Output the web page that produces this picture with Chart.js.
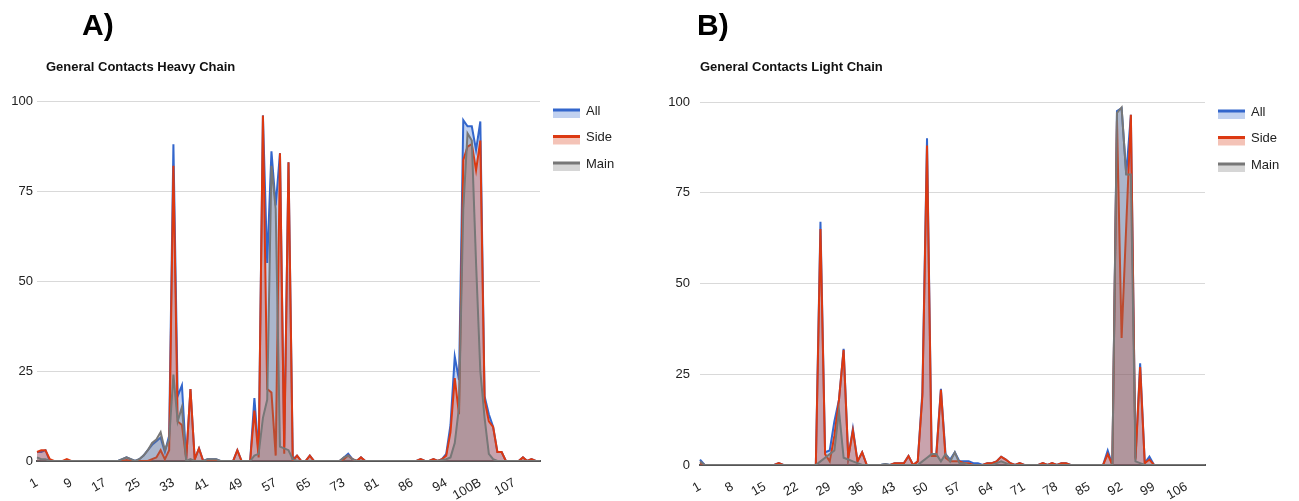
<!DOCTYPE html>
<html>
<head>
<meta charset="utf-8">
<script src="https://cdn.jsdelivr.net/npm/chart.js@4/dist/chart.umd.min.js"></script>
<style>
  html,body{margin:0;padding:0;background:#fff;}
  body{width:1299px;height:501px;position:relative;overflow:hidden;font-family:'Liberation Sans',Arial,sans-serif;}
  canvas{position:absolute;top:0;}
  .panel{position:absolute;font-weight:bold;font-size:30px;line-height:30px;color:#000;}
  .title{position:absolute;font-weight:bold;font-size:13px;line-height:13px;color:#111;}
</style>
</head>
<body>
<canvas id="heavyChart" width="650" height="501" style="left:0;width:650px;height:501px"></canvas>
<canvas id="lightChart" width="649" height="501" style="left:650px;width:649px;height:501px"></canvas>
<div class="panel" style="left:82px;top:10px">A)</div>
<div class="panel" style="left:697px;top:10px">B)</div>
<div class="title" style="left:46px;top:60px">General Contacts Heavy Chain</div>
<div class="title" style="left:700px;top:60px">General Contacts Light Chain</div>
<script>
/* ═══════════════════════════════════════
   General contacts – heavy / light chain
═══════════════════════════════════════ */

/* ── Heavy chain residues (Kabat) ── */
const HEAVY_RES = [
  '1','2','3','4','5','6','7','8','9','10','11','12','13','14','15','16','17','18','19','20',
  '21','22','23','24','25','26','27','28','29','30','31','32','33','34','35','36','37','38','39','40',
  '41','42','43','44','45','46','47','48','49','50','51','52','53','54','55','56','57','58','59','60',
  '61','62','63','64','65','66','67','68','69','70','71','72','73','74','75','76','77','78','79','80',
  '81','82','82A','82B','82C','83','84','85','86','87','88','89','90','91','92','93','94','95','96','97',
  '98','99','100','100A','100B','100C','101','102','103','104','105','106','107','108','109','110','111','112','113'
];
const HEAVY_TICKS = ['1','9','17','25','33','41','49','57','65','73','81','86','94','100B','107'];

const HEAVY_ALL = [
  2.5, 2.5, 3, 0, 0, 0, 0, 0, 0, 0,
  0, 0, 0, 0, 0, 0, 0, 0, 0, 0,
  0.5, 1, 0.5, 0, 0.5, 1.5, 3, 4.5, 5.5, 6.5,
  2.5, 7, 88, 18, 21, 0.5, 20, 0.5, 3.5, 0,
  0.5, 0.5, 0.5, 0, 0, 0, 0, 3, 0, 0,
  0, 17.5, 2, 96, 55, 86, 71, 85.5, 4, 83,
  0.5, 1.5, 0, 0, 1.5, 0, 0, 0, 0, 0,
  0, 0, 1, 2, 0.5, 0, 1, 0, 0, 0,
  0, 0, 0, 0, 0, 0, 0, 0, 0, 0,
  0.5, 0, 0, 0.5, 0, 0.5, 2, 10, 29, 22.5,
  94.7, 93, 93, 86.4, 94.3, 18, 13, 9.5, 2.5, 2.5,
  0, 0, 0, 0, 1, 0, 0.5, 0, 0
];
const HEAVY_SIDE = [
  2.5, 3, 3, 0.5, 0, 0, 0, 0.5, 0, 0,
  0, 0, 0, 0, 0, 0, 0, 0, 0, 0,
  0, 0.3, 0, 0, 0, 0, 0, 0.5, 1, 3,
  0.5, 3, 82, 11, 10, 0.5, 20, 0.5, 3.5, 0,
  0, 0, 0, 0, 0, 0, 0, 3, 0, 0,
  0, 14, 1, 96, 20, 19, 1.5, 85.5, 2, 83,
  0, 1.5, 0, 0, 1.5, 0, 0, 0, 0, 0,
  0, 0, 0.5, 1.5, 0.5, 0, 1, 0, 0, 0,
  0, 0, 0, 0, 0, 0, 0, 0, 0, 0,
  0.5, 0, 0, 0.5, 0, 0.5, 1.5, 8, 23, 13,
  83.6, 87.3, 88, 80.8, 89, 17, 11, 9.5, 2.5, 2.5,
  0, 0, 0, 0, 1, 0, 0.5, 0, 0
];
const HEAVY_MAIN = [
  1, 0.5, 0.5, 0, 0, 0, 0, 0, 0, 0,
  0, 0, 0, 0, 0, 0, 0, 0, 0, 0,
  0.5, 1, 0.5, 0, 0.5, 1.5, 3, 5, 6, 8,
  3, 6, 24, 11, 15, 0, 0.5, 0, 0, 0,
  0.5, 0.5, 0.5, 0, 0, 0, 0, 0, 0, 0,
  0, 1.5, 2, 12, 17, 82, 70, 4, 3.5, 3,
  0.5, 0, 0, 0, 0, 0, 0, 0, 0, 0,
  0, 0, 1, 1.5, 0.5, 0, 0, 0, 0, 0,
  0, 0, 0, 0, 0, 0, 0, 0, 0, 0,
  0, 0, 0, 0, 0, 0.3, 0.5, 1, 5, 15,
  70, 91, 89, 55, 25, 12, 2, 0.5, 0, 0,
  0, 0, 0, 0, 0, 0, 0, 0, 0
];

/* ── Light chain residues ── */
const LIGHT_RES = [
  '1','2','3','4','5','6','7','8','9','10','11','12','13','14','15','16','17','18','19','20',
  '21','22','23','24','25','26','27','28','29','30','31','32','33','34','35','36','37','38','39','40',
  '41','42','43','44','45','46','47','48','49','50','51','52','53','54','55','56','57','58','59','60',
  '61','62','63','64','65','66','67','68','69','70','71','72','73','74','75','76','77','78','79','80',
  '81','82','83','84','85','86','87','88','89','90','91','92','93','94','95','96','97','98','99','100',
  '101','102','103','104','105','106','107','108','109','110'
];
const LIGHT_TICKS = ['1','8','15','22','29','36','43','50','57','64','71','78','85','92','99','106'];

const LIGHT_ALL = [
  1.5, 0, 0, 0, 0, 0, 0, 0, 0, 0,
  0, 0, 0, 0, 0, 0, 0, 0.5, 0, 0,
  0, 0, 0, 0, 0, 0, 67, 3.5, 4, 12,
  18, 32, 2, 10, 1, 3.5, 0, 0, 0, 0,
  0.3, 0, 0.5, 0.5, 0.5, 2.5, 0, 1, 20, 90,
  3, 3, 21, 3, 1.5, 3.5, 1, 1, 1, 0.5,
  0.5, 0, 0.5, 0.5, 1, 2.3, 1.5, 0.5, 0, 0.5,
  0, 0, 0, 0, 0.5, 0, 0.5, 0, 0.5, 0.5,
  0, 0, 0, 0, 0, 0, 0, 0, 4, 0,
  97.5, 98.3, 80, 96.5, 2, 28, 0.5, 2.3, 0, 0,
  0, 0, 0, 0, 0, 0, 0, 0, 0, 0
];
const LIGHT_SIDE = [
  0.5, 0, 0, 0, 0, 0, 0, 0, 0, 0,
  0, 0, 0, 0, 0, 0, 0, 0.5, 0, 0,
  0, 0, 0, 0, 0, 0, 65, 3, 1, 8,
  18, 31.7, 2, 9.5, 1, 3.5, 0, 0, 0, 0,
  0, 0, 0.5, 0.5, 0.5, 2.5, 0, 1, 19, 88,
  2.5, 2.5, 20.7, 2, 1, 1, 1, 0.5, 0.5, 0,
  0, 0, 0.5, 0.5, 1, 2.3, 1.5, 0.5, 0, 0.5,
  0, 0, 0, 0, 0.5, 0, 0.5, 0, 0.5, 0.5,
  0, 0, 0, 0, 0, 0, 0, 0, 3, 0,
  95, 35, 66, 96.5, 1.5, 27, 0.5, 1.5, 0, 0,
  0, 0, 0, 0, 0, 0, 0, 0, 0, 0
];
const LIGHT_MAIN = [
  1, 0, 0, 0, 0, 0, 0, 0, 0, 0,
  0, 0, 0, 0, 0, 0, 0, 0, 0, 0,
  0, 0, 0, 0, 0, 0, 1, 2, 3, 4,
  15, 2, 1.5, 1, 0.5, 0, 0, 0, 0, 0,
  0.3, 0, 0, 0, 0, 0, 0, 0, 1, 2,
  3, 3, 1, 3, 1, 3.5, 0.5, 0.5, 0, 0,
  0, 0, 0, 0, 0.5, 1, 0.5, 0, 0, 0,
  0, 0, 0, 0, 0, 0, 0, 0, 0, 0,
  0, 0, 0, 0, 0, 0, 0, 0, 0, 0,
  97, 98.5, 80, 80, 1, 0.5, 0, 0, 0, 0,
  0, 0, 0, 0, 0, 0, 0, 0, 0, 0
];

const FONT = "'Liberation Sans', Arial, sans-serif";

/* ── right hand legend (line over a light area swatch) ── */
const areaLegend = {
  id: 'areaLegend',
  afterDraw(chart) {
    const { ctx, chartArea } = chart;
    const x = chartArea.right + 13;
    ctx.save();
    chart.data.datasets.forEach((ds, k) => {
      const y = chartArea.top + 9 + k * 26.5;
      ctx.fillStyle = ds.backgroundColor;
      ctx.fillRect(x, y, 27, 8);
      ctx.fillStyle = ds.borderColor;
      ctx.fillRect(x, y - 1.5, 27, 3);
      ctx.fillStyle = '#222';
      ctx.font = '13px ' + FONT;
      ctx.textBaseline = 'middle';
      ctx.fillText(ds.label, x + 33, y + 1);
    });
    ctx.restore();
  }
};

function series(label, data, line, area, order) {
  return { label, data, borderColor: line, backgroundColor: area, borderWidth: 2,
           fill: 'origin', pointRadius: 0, tension: 0, order };
}

function buildChart(id, cats, ticks, all, side, main, box) {
  const ctx = document.getElementById(id);
  return new Chart(ctx, {
    type: 'line',
    data: {
      labels: cats,
      datasets: [
        series('All',  all,  '#3366cc', 'rgba(51,102,204,0.3)',  2),
        series('Side', side, '#dc3912', 'rgba(220,57,18,0.3)',   1),
        series('Main', main, '#777777', 'rgba(119,119,119,0.3)', 0),
      ]
    },
    options: {
      responsive: false, animation: false, devicePixelRatio: 1,
      layout: { padding: { left: 0, top: box.top, right: box.right, bottom: 0 } },
      plugins: { legend: { display: false }, tooltip: { enabled: false } },
      scales: {
        x: {
          offset: false,
          grid: { display: false },
          border: { display: true, color: '#555', width: 2 },
          afterFit: s => { s.height = box.xh; },
          ticks: {
            autoSkip: false, minRotation: 30, maxRotation: 30, padding: 6,
            color: '#222', font: { family: FONT, size: 13 },
            callback(v) { const l = this.getLabelForValue(v); return ticks.includes(l) ? l : null; }
          }
        },
        y: {
          min: 0, max: 100,
          grid: { color: '#d9d9d9', lineWidth: 1, drawTicks: false },
          border: { display: false },
          afterFit: s => { s.width = box.yw; },
          ticks: { stepSize: 25, padding: box.tp, color: '#222', font: { family: FONT, size: 13 } }
        }
      }
    },
    plugins: [areaLegend]
  });
}

buildChart('heavyChart', HEAVY_RES, HEAVY_TICKS, HEAVY_ALL, HEAVY_SIDE, HEAVY_MAIN,
  { top: 101, right: 110, xh: 40, yw: 37, tp: 4 });
buildChart('lightChart', LIGHT_RES, LIGHT_TICKS, LIGHT_ALL, LIGHT_SIDE, LIGHT_MAIN,
  { top: 102, right: 94, xh: 36, yw: 50, tp: 10 });
</script>
</body>
</html>
